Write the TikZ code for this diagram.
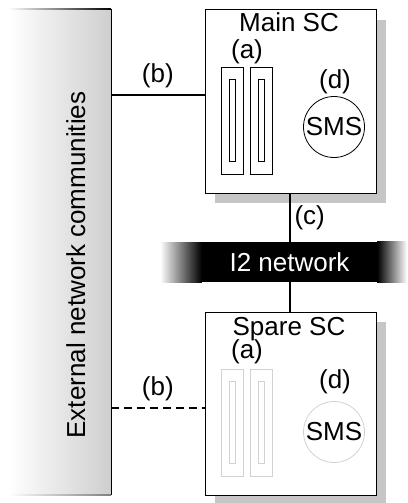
\documentclass[tikz,border=0pt]{standalone}
\usepackage{fontspec}
\setmainfont{Liberation Sans}
\usetikzlibrary{shadows}

\tikzset{
  lbl/.style={inner sep=0pt, font=\fontsize{26}{30}\selectfont},
  scbox/.style={draw, line width=1pt, fill=white, minimum width=171pt, minimum height=183pt,
    drop shadow={shadow xshift=10pt, shadow yshift=-10pt, fill=gray!45, opacity=1}},
  slot/.style={draw, line width=0.8pt, minimum width=22pt, minimum height=107pt, inner sep=0pt},
  slotin/.style={draw, line width=0.8pt, minimum width=6pt, minimum height=82pt, inner sep=0pt},
  sms/.style={circle, draw, line width=0.8pt, minimum size=61pt, inner sep=0pt,
    font=\fontsize{26}{30}\selectfont},
  link/.style={line width=2pt}
}

\begin{document}
\begin{tikzpicture}[x=1pt, y=-1pt, line cap=butt, line join=miter]
\useasboundingbox (0,0) rectangle (407,503);

% --- External network communities ---
\node[minimum width=103pt, minimum height=486pt, inner sep=0pt,
  left color=white, right color=gray!38] (ext) at (59.5,252) {};
\shade[left color=white, right color=black] (ext.north west) rectangle ++(103,1);
\shade[left color=white, right color=gray] (ext.south west) rectangle ++(103,-1);
\draw[line width=1.2pt] (ext.north east) -- (ext.south east);
\node[lbl, rotate=90, anchor=base] at (85,265) {External network communities};

% --- Main SC ---
\node[scbox] (main) at (290.5,101.5) {};
\node[lbl, anchor=base] at (289,31.5) {Main SC};
\node[lbl] at (247,52) {(a)};
\node[slot] (mslot1) at (232,120.5) {};
\node[slot] (mslot2) at (261,120.5) {};
\node[slotin] at (mslot1) {};
\node[slotin] at (mslot2) {};
\node[lbl] at (335,82) {(d)};
\node[sms] (msms) at (334,127) {SMS};

% --- I2 network ---
\node[fill=black, text=white, minimum width=175pt, minimum height=40pt, inner sep=0pt,
  font=\fontsize{26}{30}\selectfont] (net) at (289.5,262) {I2 network};
\shade[left color=white, right color=black] (160,242) rectangle (net.south west);
\shade[left color=black, right color=white] (net.north east) rectangle (407,282);

% --- Spare SC ---
\node[scbox] (spare) at (290.5,403.5) {};
\node[lbl, anchor=base] at (289,335) {Spare SC};
\node[lbl] at (247,352) {(a)};
\begin{scope}[every node/.append style={draw=gray!35}]
  \node[slot] (sslot1) at (232,422.5) {};
  \node[slot] (sslot2) at (261,422.5) {};
  \node[slotin] at (sslot1) {};
  \node[slotin] at (sslot2) {};
  \node[sms, text=black] (ssms) at (334,432) {SMS};
\end{scope}
\node[lbl] at (335,382) {(d)};

% --- Links ---
\coordinate (mport) at (main.west |- 0,95);
\coordinate (sport) at (spare.west |- 0,408);
\draw[link] (ext.east |- mport) -- node[lbl, above=6pt] {(b)} (mport);
\draw[link, dashed, dash pattern=on 8pt off 5pt] (ext.east |- sport) -- node[lbl, above=6pt] {(b)} (sport);
\draw[link] (main.south -| net.north) -- node[lbl, right=4pt] {(c)} (net.north);
\draw[link] (net.south) -- (spare.north -| net.south);

\end{tikzpicture}
\end{document}
